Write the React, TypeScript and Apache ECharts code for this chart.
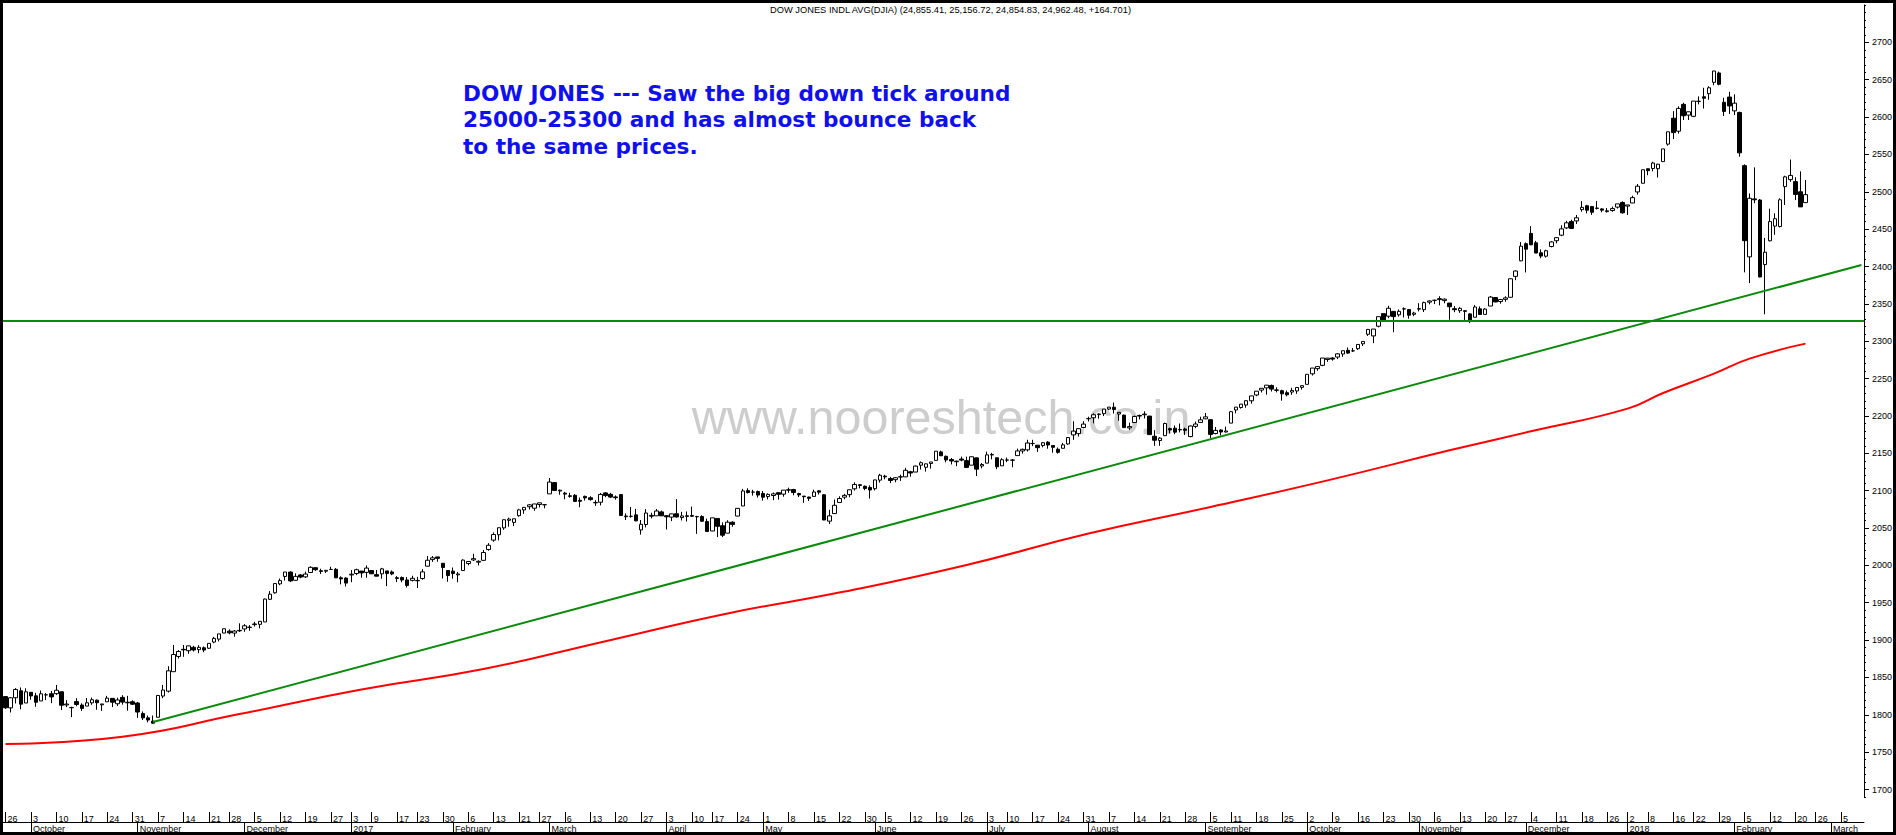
import React, { useEffect, useRef } from "react";
import * as echarts from "echarts";

// ---- trading calendar ----
const START_DATE = "2016-09-26";
const END_DATE = "2018-03-09";
const HOLIDAYS = [
  "2016-11-24", "2016-12-26", "2017-01-02", "2017-01-16", "2017-02-20", "2017-04-14", "2017-05-29",
  "2017-07-04", "2017-09-04", "2017-11-23", "2017-12-25", "2018-01-01", "2018-01-15", "2018-02-19",
];
const MONTH_NAMES = ["January", "February", "March", "April", "May", "June", "July", "August", "September", "October", "November", "December"];

// ---- daily candles, chart units (index / 10): [open, close, low, high] ----
const sep2016 = [
  [1824.4, 1809.4, 1807.8, 1824.4], [1809.3, 1822.8, 1803.1, 1823.7], [1822.8, 1833.9, 1815.2, 1835.7],
  [1832.1, 1814.3, 1807.4, 1836.6], [1815.8, 1830.8, 1815.8, 1835.5],
];
const oct2016 = [
  [1830.1, 1825.3, 1820.1, 1830.1], [1825.4, 1816.8, 1810.7, 1829.4], [1818.6, 1828.1, 1818.6, 1832.5],
  [1826.7, 1826.8, 1819.7, 1829.2], [1828.2, 1824.0, 1815.6, 1831.9], [1828.3, 1832.9, 1826.6, 1839.9],
  [1830.8, 1812.8, 1806.4, 1831.2], [1813.2, 1814.4, 1810.3, 1819.6], [1809.5, 1809.8, 1796.9, 1810.8],
  [1817.7, 1813.8, 1811.5, 1822.2], [1813.1, 1808.6, 1805.1, 1815.4], [1811.7, 1816.1, 1811.7, 1822.5],
  [1816.0, 1820.2, 1813.4, 1823.0], [1819.6, 1816.2, 1806.7, 1820.5], [1813.4, 1814.5, 1805.1, 1814.6],
  [1817.4, 1822.3, 1817.4, 1825.4], [1822.0, 1816.9, 1810.3, 1822.3], [1814.8, 1819.9, 1811.8, 1823.0],
  [1823.3, 1817.0, 1813.6, 1826.3], [1816.8, 1816.1, 1805.5, 1825.4], [1817.5, 1814.2, 1813.1, 1819.5],
];
const nov2016 = [
  [1815.8, 1803.7, 1795.9, 1817.3], [1801.7, 1795.9, 1793.0, 1804.5], [1795.9, 1793.0, 1789.9, 1799.0],
  [1791.6, 1788.8, 1788.3, 1799.1], [1796.7, 1825.9, 1796.7, 1826.0], [1825.1, 1833.2, 1822.2, 1840.0],
  [1831.7, 1858.9, 1829.8, 1865.0], [1857.7, 1880.7, 1857.7, 1893.5], [1878.1, 1884.7, 1875.3, 1886.6],
  [1887.6, 1886.9, 1877.6, 1893.4], [1885.8, 1892.3, 1881.6, 1892.5], [1890.3, 1886.8, 1884.7, 1892.4],
  [1887.2, 1890.3, 1882.4, 1893.2], [1889.7, 1886.7, 1883.8, 1891.5], [1889.1, 1895.6, 1888.2, 1895.6],
  [1897.4, 1902.3, 1895.8, 1904.3], [1901.3, 1908.3, 1898.2, 1908.3], [1909.4, 1915.2, 1909.4, 1915.3],
  [1912.0, 1909.7, 1907.7, 1914.4], [1909.4, 1912.1, 1904.6, 1913.5], [1913.0, 1912.4, 1910.9, 1922.5],
];
const dec2016 = [
  [1914.9, 1919.1, 1911.1, 1921.4], [1917.3, 1917.0, 1912.5, 1920.1], [1920.7, 1921.6, 1918.1, 1924.5],
  [1921.1, 1925.1, 1915.7, 1925.2], [1924.3, 1954.9, 1924.3, 1955.6], [1954.6, 1961.5, 1953.6, 1965.6],
  [1963.3, 1975.7, 1962.1, 1975.7], [1975.3, 1979.6, 1973.5, 1982.3], [1985.2, 1991.1, 1979.6, 1991.1],
  [1991.0, 1979.2, 1977.7, 1992.1], [1980.0, 1985.3, 1979.7, 1989.4], [1987.2, 1984.3, 1982.8, 1988.5],
  [1984.6, 1988.4, 1983.1, 1991.7], [1990.5, 1997.4, 1989.9, 1998.7], [1996.9, 1994.2, 1992.6, 1997.8],
  [1992.8, 1991.9, 1988.5, 1995.5], [1992.2, 1993.4, 1989.8, 1993.8], [1994.5, 1994.6, 1994.1, 1998.1],
  [1994.7, 1983.3, 1983.3, 1996.4], [1983.4, 1981.9, 1974.6, 1985.4], [1983.0, 1976.3, 1971.8, 1984.2],
];
const jan2017 = [
  [1987.2, 1988.2, 1977.5, 1993.8], [1989.1, 1994.2, 1987.1, 1995.6], [1992.4, 1989.9, 1983.5, 1992.5],
  [1990.6, 1996.4, 1983.4, 1999.9], [1993.1, 1988.7, 1988.6, 1993.8], [1987.6, 1985.6, 1985.3, 1993.8],
  [1988.7, 1995.4, 1982.1, 1996.7], [1992.6, 1989.2, 1972.2, 1992.6], [1991.2, 1988.6, 1986.9, 1993.2],
  [1983.5, 1982.6, 1977.7, 1985.6], [1983.8, 1980.4, 1977.5, 1985.1], [1980.5, 1973.2, 1970.4, 1984.4],
  [1979.9, 1982.7, 1978.5, 1986.1], [1979.4, 1979.9, 1969.6, 1984.6], [1982.4, 1991.3, 1980.8, 1994.9],
  [1998.9, 2006.9, 1998.6, 2012.6], [2007.7, 2010.1, 2004.7, 2012.5], [2011.3, 2009.4, 2004.9, 2011.6],
  [2002.8, 1997.1, 1982.4, 2002.8], [1993.2, 1986.4, 1978.1, 1993.4],
];
const feb2017 = [
  [1992.3, 1989.1, 1982.1, 1997.2], [1987.3, 1988.5, 1977.4, 1991.2], [1993.1, 2007.1, 1993.1, 2008.1],
  [2002.5, 2005.2, 2000.1, 2005.5], [2007.3, 2009.0, 2005.8, 2015.5], [2004.3, 2005.4, 1999.9, 2006.8],
  [2006.7, 2017.2, 2006.7, 2020.6], [2021.2, 2026.9, 2019.6, 2029.8], [2033.8, 2041.3, 2031.7, 2044.1],
  [2041.0, 2050.4, 2033.5, 2050.4], [2050.2, 2061.1, 2047.6, 2061.2], [2060.3, 2062.0, 2051.7, 2063.9],
  [2057.5, 2062.4, 2052.6, 2062.4], [2066.5, 2074.3, 2065.1, 2075.7], [2074.2, 2077.6, 2069.0, 2077.8],
  [2078.5, 2081.0, 2074.9, 2082.0], [2076.5, 2082.2, 2073.1, 2082.2], [2081.5, 2083.7, 2077.5, 2083.8],
  [2081.2, 2081.2, 2076.4, 2082.2],
];
const mar2017 = [
  [2095.7, 2111.5, 2095.7, 2116.9], [2110.8, 2100.3, 2099.8, 2111.3], [2099.5, 2100.6, 2094.5, 2101.5],
  [2096.7, 2095.4, 2088.4, 2098.4], [2093.1, 2092.4, 2090.6, 2097.2], [2093.8, 2085.6, 2085.6, 2095.3],
  [2087.0, 2085.8, 2077.8, 2090.8], [2092.3, 2090.3, 2086.7, 2093.4], [2090.5, 2088.1, 2086.6, 2092.5],
  [2084.2, 2083.7, 2079.6, 2087.2], [2084.5, 2095.0, 2080.2, 2096.9], [2097.0, 2093.4, 2091.4, 2098.2],
  [2095.1, 2091.4, 2090.2, 2097.0], [2091.6, 2090.6, 2087.9, 2093.6], [2094.7, 2066.8, 2066.8, 2095.4],
  [2065.1, 2066.1, 2060.7, 2069.6], [2065.8, 2065.6, 2063.8, 2078.2], [2067.6, 2059.6, 2059.0, 2075.6],
  [2047.5, 2055.0, 2041.2, 2060.7], [2054.7, 2070.1, 2050.8, 2075.3], [2066.9, 2065.9, 2062.9, 2070.4],
  [2066.3, 2072.8, 2066.3, 2075.4], [2071.6, 2066.3, 2066.3, 2073.2],
];
const apr2017 = [
  [2066.5, 2065.0, 2048.0, 2067.2], [2064.6, 2068.9, 2059.3, 2069.2], [2069.1, 2064.8, 2064.0, 2088.7],
  [2064.0, 2066.2, 2060.1, 2071.6], [2066.4, 2065.6, 2058.7, 2072.2], [2066.7, 2065.8, 2064.9, 2078.7],
  [2065.3, 2065.1, 2042.2, 2066.3], [2065.4, 2059.1, 2058.5, 2067.2], [2058.6, 2045.3, 2045.3, 2062.6],
  [2046.0, 2063.6, 2046.0, 2063.7], [2062.8, 2052.3, 2037.9, 2063.4], [2053.1, 2040.4, 2037.9, 2057.5],
  [2043.1, 2057.8, 2043.1, 2060.4], [2057.8, 2054.8, 2051.6, 2059.1], [2066.0, 2076.3, 2065.8, 2076.8],
  [2079.5, 2099.6, 2079.5, 2102.4], [2100.1, 2097.5, 2096.1, 2103.2], [2098.1, 2098.1, 2093.4, 2101.1],
  [2098.8, 2094.1, 2090.7, 2100.1],
];
const may2017 = [
  [2096.3, 2091.3, 2086.6, 2099.6], [2092.1, 2095.0, 2088.3, 2096.4], [2093.5, 2095.7, 2087.3, 2097.5],
  [2097.3, 2095.1, 2088.0, 2097.3], [2095.3, 2100.7, 2091.9, 2100.7], [2100.6, 2101.3, 2097.1, 2104.0],
  [2101.4, 2097.5, 2093.8, 2102.4], [2096.1, 2094.3, 2091.5, 2097.1], [2092.7, 2091.9, 2083.8, 2092.9],
  [2091.4, 2089.7, 2086.1, 2092.0], [2092.3, 2098.2, 2092.3, 2101.3], [2099.8, 2098.0, 2094.8, 2100.4],
  [2094.5, 2060.7, 2060.6, 2095.4], [2059.2, 2066.3, 2055.3, 2074.4], [2069.3, 2080.4, 2069.3, 2088.2],
  [2084.2, 2089.5, 2084.2, 2092.4], [2091.3, 2093.7, 2088.5, 2095.7], [2094.7, 2101.2, 2091.2, 2101.5],
  [2102.5, 2108.3, 2100.1, 2111.2], [2106.9, 2108.0, 2103.0, 2108.7], [2105.9, 2102.9, 2100.6, 2106.9],
  [2104.3, 2100.9, 2089.5, 2107.0],
];
const jun2017 = [
  [2102.6, 2114.4, 2100.2, 2114.4], [2114.1, 2120.6, 2110.8, 2122.5], [2119.4, 2118.4, 2115.2, 2121.2],
  [2116.2, 2113.6, 2110.1, 2118.4], [2114.7, 2117.3, 2111.3, 2118.2], [2118.6, 2118.2, 2113.0, 2121.4],
  [2118.5, 2127.2, 2118.5, 2130.5], [2125.3, 2123.6, 2118.7, 2126.5], [2124.9, 2132.9, 2124.9, 2133.7],
  [2134.1, 2137.4, 2128.2, 2139.1], [2131.3, 2135.9, 2125.5, 2136.0], [2136.4, 2138.4, 2129.5, 2138.4],
  [2140.5, 2152.8, 2140.5, 2152.9], [2151.9, 2146.7, 2146.7, 2153.5], [2146.0, 2141.1, 2137.9, 2146.9],
  [2141.6, 2139.7, 2135.1, 2143.7], [2138.7, 2139.5, 2132.8, 2140.2], [2142.3, 2140.9, 2139.3, 2145.5],
  [2140.2, 2131.1, 2131.0, 2145.5], [2134.1, 2145.4, 2134.1, 2145.8], [2143.9, 2128.8, 2119.7, 2144.3],
  [2133.0, 2135.0, 2129.9, 2136.9],
];
const jul2017 = [
  [2136.8, 2147.9, 2136.8, 2152.2], [2148.4, 2147.8, 2141.9, 2150.5], [2144.0, 2132.0, 2128.7, 2144.6],
  [2133.2, 2141.4, 2133.2, 2143.4], [2141.1, 2140.9, 2138.2, 2144.3], [2140.8, 2140.9, 2131.3, 2142.4],
  [2146.9, 2153.2, 2146.9, 2156.3], [2153.1, 2155.3, 2149.5, 2156.3], [2154.6, 2163.8, 2152.4, 2168.1],
  [2163.2, 2163.0, 2159.6, 2168.1], [2160.8, 2157.5, 2151.9, 2161.3], [2160.5, 2164.1, 2158.0, 2164.9],
  [2164.9, 2161.1, 2156.1, 2166.3], [2160.4, 2158.0, 2150.9, 2160.4], [2155.4, 2151.3, 2149.5, 2157.7],
  [2156.7, 2161.3, 2156.7, 2164.0], [2162.5, 2171.1, 2161.4, 2171.4], [2174.6, 2179.7, 2168.0, 2192.9],
  [2176.3, 2183.0, 2172.4, 2183.0], [2184.6, 2189.1, 2183.5, 2192.9],
];
const aug2017 = [
  [2196.4, 2196.4, 2192.6, 2199.0], [2197.6, 2201.6, 2190.1, 2203.6], [2201.8, 2202.6, 2196.3, 2203.5],
  [2203.0, 2209.2, 2199.8, 2209.2], [2209.2, 2211.8, 2207.8, 2211.8], [2211.6, 2208.5, 2203.2, 2217.9],
  [2202.6, 2204.8, 2193.4, 2205.3], [2201.1, 2184.4, 2184.4, 2201.8], [2184.0, 2185.8, 2181.3, 2191.0],
  [2191.2, 2199.3, 2191.2, 2200.4], [2200.7, 2199.8, 2195.3, 2201.8], [2201.6, 2202.5, 2196.7, 2206.2],
  [2199.8, 2175.0, 2175.0, 2200.1], [2172.8, 2167.5, 2160.0, 2180.9], [2167.1, 2170.3, 2160.0, 2171.6],
  [2173.6, 2189.9, 2173.6, 2190.9], [2183.0, 2181.2, 2176.7, 2184.4], [2183.6, 2178.3, 2175.5, 2187.2],
  [2182.0, 2181.4, 2178.0, 2189.9], [2182.5, 2180.8, 2174.6, 2184.3], [2172.4, 2186.5, 2171.5, 2187.3],
  [2186.1, 2189.2, 2183.6, 2192.5], [2191.3, 2194.8, 2191.3, 2198.9],
];
const sep2017 = [
  [2196.1, 2198.8, 2195.9, 2203.9], [2195.0, 2175.3, 2170.1, 2195.9], [2176.5, 2180.7, 2175.4, 2185.2],
  [2181.2, 2178.5, 2174.0, 2182.2], [2178.5, 2179.8, 2177.9, 2185.7], [2190.4, 2205.7, 2190.4, 2206.5],
  [2208.0, 2211.8, 2203.5, 2211.8], [2211.3, 2215.8, 2209.8, 2215.8], [2214.6, 2220.4, 2211.0, 2220.4],
  [2220.3, 2226.8, 2216.4, 2226.8], [2228.0, 2233.1, 2226.4, 2233.1], [2234.6, 2237.0, 2231.4, 2237.1],
  [2237.6, 2241.2, 2228.5, 2241.3], [2240.8, 2235.9, 2232.7, 2242.0], [2234.2, 2234.9, 2231.5, 2238.3],
  [2233.8, 2229.6, 2220.4, 2235.2], [2231.1, 2228.4, 2226.2, 2234.0], [2232.0, 2234.1, 2228.2, 2237.7],
  [2233.5, 2238.1, 2229.6, 2238.1], [2238.3, 2240.5, 2235.3, 2240.9],
];
const oct2017 = [
  [2242.3, 2255.7, 2242.3, 2255.7], [2256.4, 2264.1, 2254.1, 2264.1], [2263.3, 2266.1, 2260.4, 2266.6],
  [2267.7, 2277.5, 2266.6, 2277.6], [2275.6, 2277.4, 2272.4, 2277.6], [2277.5, 2276.1, 2274.0, 2278.8],
  [2278.8, 2283.1, 2276.1, 2284.2], [2282.9, 2287.3, 2279.1, 2287.3], [2287.8, 2284.1, 2283.1, 2291.7],
  [2287.2, 2287.1, 2285.6, 2290.9], [2290.0, 2295.7, 2288.2, 2295.7], [2296.6, 2299.7, 2293.7, 2300.2],
  [2309.3, 2315.8, 2307.1, 2316.3], [2307.1, 2316.3, 2297.4, 2316.3], [2320.1, 2332.9, 2318.6, 2332.9],
  [2336.9, 2327.4, 2326.8, 2336.9], [2333.5, 2344.1, 2330.8, 2347.4], [2339.9, 2332.9, 2312.0, 2340.4],
  [2335.4, 2340.0, 2333.0, 2342.5], [2343.1, 2343.4, 2331.8, 2345.3], [2342.4, 2334.8, 2330.1, 2342.4],
  [2336.0, 2337.7, 2333.6, 2339.4],
];
const nov2017 = [
  [2342.9, 2343.6, 2339.9, 2350.9], [2342.3, 2351.7, 2339.1, 2353.0], [2352.3, 2353.9, 2349.4, 2354.7],
  [2354.7, 2354.8, 2349.7, 2355.6], [2356.9, 2355.7, 2348.0, 2360.2], [2354.4, 2356.3, 2350.8, 2357.3],
  [2351.1, 2346.2, 2328.7, 2351.1], [2343.6, 2342.2, 2338.9, 2347.0], [2340.9, 2344.0, 2337.9, 2345.7],
  [2339.9, 2340.9, 2327.7, 2341.8], [2336.6, 2327.2, 2324.2, 2337.5], [2332.1, 2345.8, 2332.1, 2348.4],
  [2343.3, 2335.8, 2335.8, 2346.6], [2335.9, 2343.0, 2335.9, 2344.3], [2347.1, 2359.1, 2347.1, 2360.5],
  [2358.5, 2352.6, 2352.1, 2358.5], [2353.1, 2355.8, 2350.3, 2356.6], [2356.1, 2358.0, 2352.9, 2360.2],
  [2358.8, 2383.6, 2358.8, 2383.6], [2386.8, 2394.0, 2381.7, 2394.9], [2407.6, 2427.2, 2407.1, 2432.7],
];
const dec2017 = [
  [2430.5, 2423.2, 2392.1, 2432.2], [2444.3, 2429.0, 2428.6, 2454.0], [2431.7, 2418.0, 2417.9, 2434.3],
  [2418.4, 2414.0, 2411.0, 2422.9], [2413.8, 2421.1, 2411.9, 2422.5], [2426.8, 2432.9, 2425.6, 2434.0],
  [2434.5, 2438.6, 2431.0, 2439.3], [2441.9, 2450.4, 2440.7, 2455.2], [2451.7, 2458.5, 2450.1, 2461.2],
  [2460.3, 2450.9, 2450.7, 2462.7], [2461.0, 2465.2, 2457.0, 2469.0], [2476.1, 2479.2, 2473.3, 2487.6],
  [2481.3, 2475.4, 2471.1, 2482.5], [2480.3, 2472.6, 2469.1, 2481.1], [2477.8, 2478.2, 2476.3, 2487.6],
  [2477.1, 2475.4, 2472.6, 2478.1], [2473.5, 2474.6, 2472.1, 2478.2], [2475.0, 2477.5, 2473.2, 2480.2],
  [2479.5, 2483.8, 2477.6, 2483.8], [2485.7, 2471.9, 2470.7, 2487.2],
];
const jan2018 = [
  [2480.9, 2482.4, 2469.0, 2482.4], [2485.0, 2492.2, 2485.0, 2494.8], [2499.8, 2507.5, 2496.2, 2510.4],
  [2511.4, 2529.5, 2511.4, 2529.5], [2530.8, 2528.3, 2522.2, 2531.1], [2531.2, 2538.5, 2527.4, 2540.2],
  [2530.9, 2536.9, 2519.1, 2537.4], [2540.4, 2557.4, 2540.4, 2557.4], [2563.8, 2580.3, 2561.7, 2580.3],
  [2598.5, 2579.2, 2570.6, 2608.0], [2581.1, 2611.6, 2577.9, 2614.3], [2617.0, 2601.7, 2596.1, 2619.1],
  [2602.6, 2607.1, 2596.1, 2607.1], [2601.0, 2621.4, 2599.9, 2621.5], [2621.1, 2621.0, 2617.0, 2627.6],
  [2627.2, 2625.2, 2611.4, 2639.2], [2631.3, 2639.2, 2623.3, 2641.2], [2646.5, 2661.7, 2642.6, 2661.7],
  [2659.0, 2643.9, 2642.5, 2660.8], [2619.8, 2607.6, 2601.4, 2625.9], [2626.8, 2614.9, 2604.2, 2633.8],
];
const feb2018 = [
  [2608.3, 2618.6, 2602.6, 2630.5], [2606.2, 2552.1, 2547.0, 2607.2], [2535.0, 2434.6, 2392.2, 2536.7],
  [2412.9, 2491.3, 2377.8, 2497.8], [2490.5, 2489.3, 2484.8, 2532.7], [2489.0, 2386.0, 2385.7, 2490.3],
  [2402.6, 2419.1, 2336.0, 2438.3], [2434.4, 2460.1, 2433.6, 2477.4], [2454.1, 2464.0, 2442.4, 2471.2],
  [2453.5, 2489.3, 2452.3, 2491.2], [2506.9, 2520.0, 2482.4, 2521.5], [2516.3, 2521.9, 2513.4, 2543.2],
  [2513.6, 2496.5, 2489.0, 2519.5], [2500.0, 2479.8, 2479.7, 2527.3], [2485.5, 2496.2, 2485.5, 2515.7],
];

// ---- moving average (red): [day index, value] ----
const maPoints = [
  [0, 1761], [23, 1770.7], [46, 1801], [70, 1834], [94, 1861.3], [118, 1898.5], [142, 1935.7],
  [165, 1964.9], [189, 2000.5], [213, 2042.6], [237, 2078.2], [260, 2113.8], [284, 2154], [300, 2179.4],
  [319, 2209.8], [326, 2230.7], [336, 2256.6], [343, 2276.7], [354, 2296.8],
];
// ---- rising trend line (green) ----
const trendPoints = [[29, 1790.3], [365, 2402]];
// ---- horizontal support level (green) ----
const supportLevel = 2327;

const TITLE_TEXT = "DOW JONES INDL AVG(DJIA) (24,855.41, 25,156.72, 24,854.83, 24,962.48, +164.701)";
const NOTE_LINES = [
  "DOW JONES --- Saw the big down tick around",
  "25000-25300 and has almost bounce back",
  "to the same prices.",
];
const WATERMARK = "www.nooreshtech.co.in";
const Y_LABELS = [1700, 1750, 1800, 1850, 1900, 1950, 2000, 2050, 2100, 2150, 2200, 2250, 2300, 2350, 2400, 2450, 2500, 2550, 2600, 2650, 2700];

function buildDates(): string[] {
  const out: string[] = [];
  const hol = new Set(HOLIDAYS);
  const start = Date.parse(START_DATE + "T00:00:00Z");
  const end = Date.parse(END_DATE + "T00:00:00Z");
  for (let t = start; t <= end; t += 86400000) {
    const d = new Date(t);
    const wd = d.getUTCDay();
    if (wd === 0 || wd === 6) continue;
    const s = d.toISOString().slice(0, 10);
    if (hol.has(s)) continue;
    out.push(s);
  }
  return out;
}

export default function App() {
  const ref = useRef<HTMLDivElement>(null);
  useEffect(() => {
    document.body.style.margin = "0";
    const el = ref.current!;
    const chart = echarts.init(el, undefined, { renderer: "svg" });
    const dates = buildDates();
    const candles = [
      ...sep2016, ...oct2016, ...nov2016, ...dec2016, ...jan2017, ...feb2017, ...mar2017, ...apr2017,
      ...may2017, ...jun2017, ...jul2017, ...aug2017, ...sep2017, ...oct2017, ...nov2017, ...dec2017,
      ...jan2018, ...feb2018,
    ];
    const weekIdx = (s: string) => Math.floor((Date.parse(s + "T00:00:00Z") / 86400000 + 3) / 7);
    const weekStart = new Set<number>();
    const monthStart = new Set<number>();
    dates.forEach((s, i) => {
      if (i === 0 || weekIdx(s) !== weekIdx(dates[i - 1])) weekStart.add(i);
      if (i > 0 && s.slice(0, 7) !== dates[i - 1].slice(0, 7)) monthStart.add(i);
    });
    const weekFn = (i: number) => weekStart.has(i);
    const monthFn = (i: number) => monthStart.has(i);
    const font = "Liberation Sans, Arial, sans-serif";

    const option: any = {
      animation: false,
      backgroundColor: "#ffffff",
      textStyle: { fontFamily: font },
      grid: { left: 3, top: 5, width: 1861, height: 792 },
      xAxis: [
        {
          type: "category", data: dates, boundaryGap: true, position: "bottom", offset: 15,
          axisLine: { show: false },
          axisTick: { show: true, alignWithLabel: true, interval: weekFn, length: 10, lineStyle: { color: "#000", width: 1 } },
          axisLabel: {
            interval: weekFn, formatter: (v: string) => String(Number(v.slice(8, 10))),
            align: "left", padding: [0, 0, 0, 2], margin: 2, fontSize: 9, color: "#000", fontFamily: font,
          },
          splitLine: { show: false },
        },
        {
          type: "category", data: dates, boundaryGap: true, position: "bottom", offset: 25,
          axisLine: { show: true, lineStyle: { color: "#000", width: 1 } },
          axisTick: { show: true, alignWithLabel: true, interval: monthFn, length: 10, lineStyle: { color: "#000", width: 1 } },
          axisLabel: {
            interval: monthFn,
            formatter: (v: string) => {
              const m = Number(v.slice(5, 7));
              return m === 1 ? v.slice(0, 4) : MONTH_NAMES[m - 1];
            },
            align: "left", padding: [0, 0, 0, 2], margin: 2, fontSize: 9, color: "#000", fontFamily: font,
          },
          splitLine: { show: false },
        },
      ],
      yAxis: [
        {
          type: "value", position: "right", min: 1690, max: 2750, interval: 10, scale: true,
          axisLine: { show: true, lineStyle: { color: "#000", width: 1 } },
          axisTick: { show: true, length: 2, lineStyle: { color: "#000" } },
          axisLabel: {
            formatter: (v: number) => (Y_LABELS.indexOf(Math.round(v)) >= 0 ? String(Math.round(v)) : ""),
            margin: 8, fontSize: 9, color: "#000", fontFamily: font,
          },
          splitLine: { show: false },
        },
        {
          type: "value", position: "right", min: 1690, max: 2750,
          axisLine: { show: false },
          axisTick: { show: true, length: 5, customValues: Y_LABELS, lineStyle: { color: "#000" } },
          axisLabel: { show: false },
          splitLine: { show: false },
        },
      ],
      series: [
        {
          type: "candlestick", name: "DJIA", data: candles, xAxisIndex: 0, yAxisIndex: 0, barWidth: 4,
          itemStyle: { color: "#ffffff", color0: "#000000", borderColor: "#000000", borderColor0: "#000000", borderWidth: 1 },
          markLine: {
            silent: true, symbol: "none", label: { show: false },
            lineStyle: { color: "#0a8a0a", width: 2, type: "solid" },
            data: [{ yAxis: supportLevel }],
          },
        },
        {
          type: "line", name: "MA", data: maPoints, xAxisIndex: 0, yAxisIndex: 0, smooth: 0.5,
          showSymbol: false, symbol: "none", lineStyle: { color: "#ff0000", width: 2 },
        },
        {
          type: "line", name: "Trend", data: trendPoints, xAxisIndex: 0, yAxisIndex: 0,
          showSymbol: false, symbol: "none", lineStyle: { color: "#0a8a0a", width: 2 },
        },
      ],
      graphic: [
        { type: "rect", shape: { x: 0, y: 0, width: 1896, height: 3 }, style: { fill: "#000" }, silent: true },
        { type: "rect", shape: { x: 0, y: 0, width: 3, height: 835 }, style: { fill: "#000" }, silent: true },
        { type: "rect", shape: { x: 1893, y: 0, width: 3, height: 835 }, style: { fill: "#000" }, silent: true },
        { type: "rect", shape: { x: 0, y: 832, width: 1896, height: 3 }, style: { fill: "#000" }, silent: true },
        {
          type: "text", x: 770, y: 10, silent: true,
          style: { text: TITLE_TEXT, fontSize: 9.3, fill: "#000", fontFamily: font, textVerticalAlign: "middle" },
        },
        {
          type: "text", x: 941, y: 417, silent: true, z: -1,
          style: {
            text: WATERMARK, fontSize: 48.5, fill: "#cdcdcd", fontFamily: font,
            textAlign: "center", textVerticalAlign: "middle",
          },
        },
        ...NOTE_LINES.map((t, k) => ({
          type: "text", x: 463, y: 93 + k * 26.5, silent: true,
          style: {
            text: t, fontSize: 21.6, fontWeight: "bold", fill: "#1010ee", fontFamily: "DejaVu Sans, Verdana, sans-serif",
            textVerticalAlign: "middle",
          },
        })),
      ],
    };
    chart.setOption(option);
    return () => chart.dispose();
  }, []);
  return <div ref={ref} style={{ width: 1896, height: 835, background: "#fff" }} />;
}
